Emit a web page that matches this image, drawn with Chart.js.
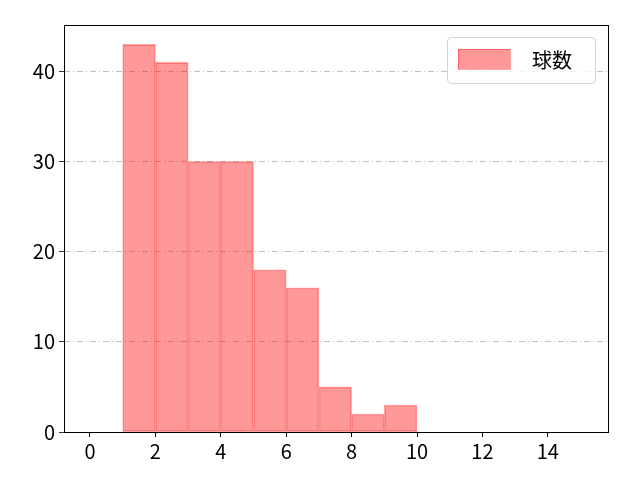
<!DOCTYPE html>
<html>
<head>
<meta charset="utf-8">
<script src="https://cdn.jsdelivr.net/npm/chart.js@4"></script>
<style>
  html, body { margin: 0; padding: 0; background: #fff; }
  #wrap { width: 640px; height: 480px; }
</style>
</head>
<body>
<div id="wrap"><canvas id="myChart" width="640" height="480"></canvas></div>
<script>
// histogram bins (left edges), counts per bin
var binStarts = [0, 1, 2, 3, 4, 5, 6, 7, 8, 9, 10, 11, 12, 13, 14];
var counts = [0, 43, 41, 30, 30, 18, 16, 5, 2, 3, 0, 0, 0, 0, 0];
var xTicks = [0, 2, 4, 6, 8, 10, 12, 14];
var yTicks = [0, 10, 20, 30, 40];
var seriesLabel = '球数';

var FONT = '"Noto Sans CJK JP", "DejaVu Sans", sans-serif';

var points = [];
for (var i = 0; i < binStarts.length; i++) {
    points.push({x: binStarts[i] + 0.5, y: counts[i]});
}

// frame round the plot + legend box in the upper right
var framePlugin = {
    id: 'frame',
    afterDraw: function (chart) {
        var ctx = chart.ctx;
        var a = chart.chartArea;
        ctx.save();
        ctx.strokeStyle = '#000';
        ctx.lineWidth = 1;
        ctx.strokeRect(a.left + 0.5, a.top + 0.5, a.right - a.left, a.bottom - a.top);

        // legend
        var bx = 447.5, by = 37.5, bw = 148, bh = 46, r = 4;
        ctx.beginPath();
        ctx.moveTo(bx + r, by);
        ctx.lineTo(bx + bw - r, by);
        ctx.quadraticCurveTo(bx + bw, by, bx + bw, by + r);
        ctx.lineTo(bx + bw, by + bh - r);
        ctx.quadraticCurveTo(bx + bw, by + bh, bx + bw - r, by + bh);
        ctx.lineTo(bx + r, by + bh);
        ctx.quadraticCurveTo(bx, by + bh, bx, by + bh - r);
        ctx.lineTo(bx, by + r);
        ctx.quadraticCurveTo(bx, by, bx + r, by);
        ctx.closePath();
        ctx.fillStyle = 'rgba(255,255,255,0.8)';
        ctx.fill();
        ctx.strokeStyle = '#d5d5d5';
        ctx.stroke();

        ctx.fillStyle = 'rgba(255,0,0,0.4)';
        ctx.fillRect(458, 49, 52, 20);
        ctx.strokeStyle = 'rgba(255,0,0,0.35)';
        ctx.strokeRect(458.5, 49.5, 52, 20);

        ctx.fillStyle = '#000';
        ctx.font = '20px ' + FONT;
        ctx.textBaseline = 'middle';
        ctx.fillText(seriesLabel, 532, 60);
        ctx.restore();
    }
};

var ctx = document.getElementById('myChart');
var myChart = new Chart(ctx, {
    type: 'bar',
    data: {
        datasets: [{
            label: seriesLabel,
            data: points,
            backgroundColor: 'rgba(255,0,0,0.4)',
            borderColor: 'rgba(255,0,0,0.35)',
            borderWidth: 1,
            borderSkipped: false,
            barPercentage: 1,
            categoryPercentage: 1
        }]
    },
    options: {
        responsive: false,
        animation: false,
        layout: {padding: {top: 25, right: 32, left: 0, bottom: 0}},
        plugins: {
            legend: {display: false},
            tooltip: {enabled: false}
        },
        scales: {
            x: {
                type: 'linear',
                offset: false,
                min: -0.795,
                max: 15.84,
                afterBuildTicks: function (scale) {
                    scale.ticks = xTicks.map(function (v) { return {value: v}; });
                },
                afterFit: function (scale) { scale.height = 48; },
                grid: {
                    offset: false,
                    drawOnChartArea: false,
                    drawTicks: true,
                    tickLength: 5,
                    tickColor: '#000'
                },
                border: {display: false},
                ticks: {
                    color: '#000',
                    font: {family: FONT, size: 20},
                    padding: 2,
                    maxRotation: 0
                }
            },
            y: {
                min: 0,
                max: 45.15,
                afterBuildTicks: function (scale) {
                    scale.ticks = yTicks.map(function (v) { return {value: v}; });
                },
                afterFit: function (scale) { scale.width = 64; },
                grid: {
                    color: function (c) { return c.tick && c.tick.value === 0 ? 'rgba(0,0,0,0)' : '#b0b0b0'; },
                    lineWidth: 0.8,
                    drawTicks: true,
                    tickLength: 5,
                    tickColor: '#000',
                    tickBorderDash: []
                },
                border: {display: false, dash: [6, 3, 1, 3]},
                ticks: {
                    color: '#000',
                    font: {family: FONT, size: 20},
                    padding: 4
                }
            }
        }
    },
    plugins: [framePlugin]
});
</script>
</body>
</html>
